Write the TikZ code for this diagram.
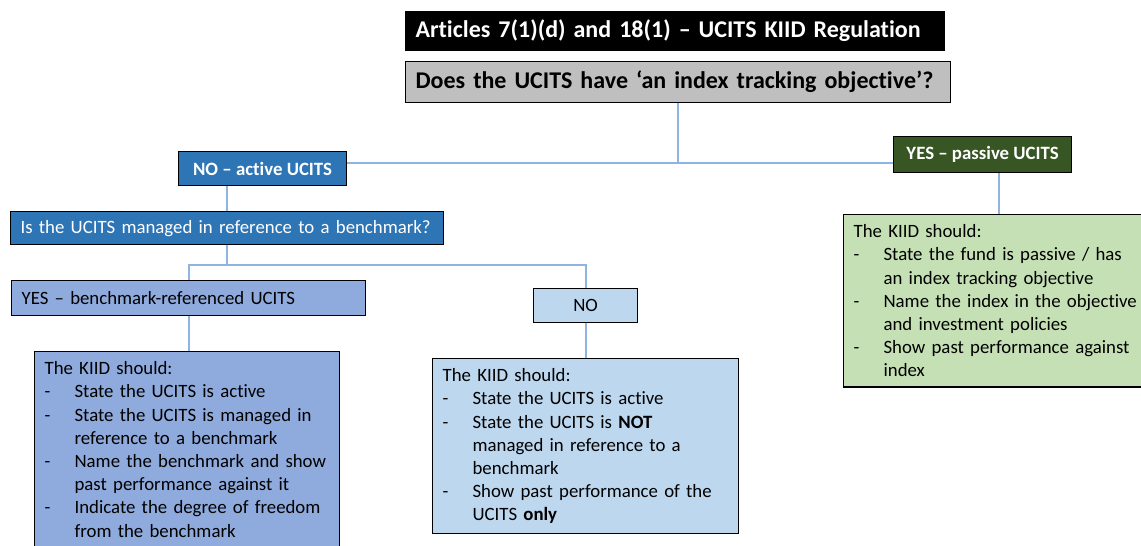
\documentclass[tikz,border=0pt]{standalone}
\usepackage{fontspec}
\setmainfont{Carlito}[Ligatures=NoCommon]
\usepackage{tikz}

\definecolor{activeblue}{HTML}{2E75B6}
\definecolor{midblue}{HTML}{8FAADC}
\definecolor{paleblue}{HTML}{BDD7EE}
\definecolor{darkgreen}{HTML}{375623}
\definecolor{palegreen}{HTML}{C5E0B4}
\definecolor{qgray}{HTML}{BFBFBF}
\definecolor{linkblue}{HTML}{8DB4E2}

\newcommand{\bodyfont}{\fontsize{9.4}{11.6}\selectfont}
\newcommand{\headfont}{\fontsize{12}{14}\selectfont\bfseries}
\newcommand{\kiiditem}[1]{\par\hangindent=15pt\hangafter=1\noindent\makebox[15pt][l]{-}#1}

\begin{document}
\begin{tikzpicture}[x=0.5pt, y=-0.5pt,
    box/.style={draw=black, line width=0.6pt, anchor=north west, inner xsep=5pt, inner ysep=0pt, font=\bodyfont},
    kiid/.style={box, inner ysep=5pt},
    link/.style={draw=linkblue, line width=1pt}]
    \useasboundingbox (0,0) rectangle (1141,546);

    % top of the tree
    \node[box, fill=black, text=white, font=\headfont, text width=259.5pt, minimum height=19.5pt, align=left] (title) at (405, 11) {Articles 7(1)(d) and 18(1) – UCITS KIID Regulation};
    \node[box, fill=qgray, font=\headfont, text width=262.5pt, minimum height=20.5pt, align=left] (q) at (405, 61) {Does the UCITS have ‘an index tracking objective’?};
    \coordinate (jq) at (677, 163);

    % active side
    \node[box, fill=activeblue, text=white, font=\bodyfont\bfseries, minimum width=84pt, minimum height=17pt] (noact) at (178, 151) {NO – active UCITS};
    \node[box, fill=activeblue, text=white, text width=206.5pt, minimum height=16.5pt, align=left] (bench) at (10, 211) {Is the UCITS managed in reference to a benchmark?};
    \coordinate (jb) at (228, 265);
    \node[box, fill=midblue, text width=167pt, minimum height=17.5pt, align=left] (yesbm) at (11, 280) {YES – benchmark-referenced UCITS};
    \node[box, fill=paleblue, minimum width=52pt, minimum height=17pt] (nobm) at (533, 288) {NO};
    \node[kiid, fill=midblue, text width=142.5pt] (kiidA) at (34, 351) {\raggedright The KIID should:
        \kiiditem{State the UCITS is active}
        \kiiditem{State the UCITS is managed in\newline reference to a benchmark}
        \kiiditem{Name the benchmark and show\newline past performance against it}
        \kiiditem{Indicate the degree of freedom\newline from the benchmark}\par};
    \node[kiid, fill=paleblue, text width=143pt] (kiidB) at (432, 358) {\raggedright The KIID should:
        \kiiditem{State the UCITS is active}
        \kiiditem{State the UCITS is \textbf{NOT}\newline managed in reference to a\newline benchmark}
        \kiiditem{Show past performance of the\newline UCITS \textbf{only}}\par};

    % passive side
    \node[box, fill=darkgreen, text=white, font=\bodyfont\bfseries, minimum width=89pt, minimum height=18pt] (yespas) at (893, 136) {YES – passive UCITS};
    \node[kiid, fill=palegreen, text width=145pt] (kiidC) at (843, 214) {\raggedright The KIID should:
        \kiiditem{State the fund is passive / has\newline an index tracking objective}
        \kiiditem{Name the index in the objective\newline and investment policies}
        \kiiditem{Show past performance against\newline index}\par};

    % connectors
    \draw[link] (q.south) -- (q.south |- jq);
    \draw[link] (noact.east |- jq) -- (yespas.west |- jq);
    \draw[link] (bench.north) -- (bench.north |- noact.south);
    \draw[link] (bench.south) -- (bench.south |- jb);
    \draw[link] (yesbm.north) |- (jb) -| (nobm.north);
    \draw[link] (yesbm.south) -- (yesbm.south |- kiidA.north);
    \draw[link] (nobm.south) -- (nobm.south |- kiidB.north);
    \draw[link] (yespas.south -| kiidC.north) -- (kiidC.north);
\end{tikzpicture}
\end{document}
